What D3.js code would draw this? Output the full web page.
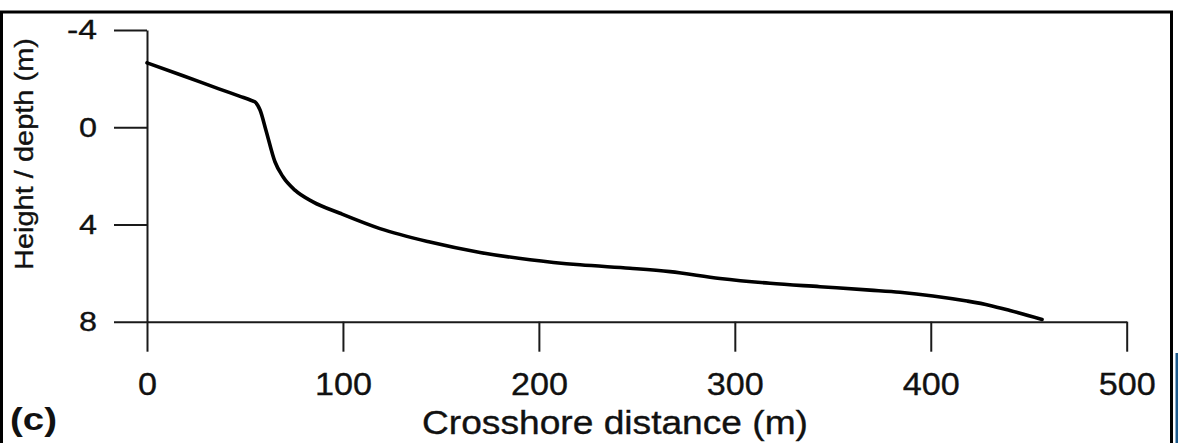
<!DOCTYPE html>
<html>
<head>
<meta charset="utf-8">
<script src="https://cdn.jsdelivr.net/npm/d3@7"></script>
<style>
  body { margin: 0; background: #fff; }
  svg { display: block; }
  text { font-family: "Liberation Sans", Arial, Helvetica, sans-serif; }
</style>
</head>
<body>
<svg id="chart" width="1178" height="443"></svg>
<script>
// Beach profile: crosshore distance (m) vs height / depth (m, positive downward)
const distance = [0, 18.4, 36.7, 47.5, 53, 55.1, 57.7, 60.7, 65.3, 69.4, 75.5, 84.7, 98.5, 118.9, 144.4, 170,
                  195.5, 221, 246.5, 266.9, 292.4, 318, 343.5, 369, 384.3, 401.1, 418.5, 430.2, 440.4, 456.8];
const depth    = [-2.65, -2.12, -1.58, -1.27, -1.11, -1.04, -0.71, 0.12, 1.42, 2.04, 2.59, 3.07, 3.54, 4.17, 4.72, 5.15,
                  5.45, 5.66, 5.80, 5.94, 6.22, 6.42, 6.56, 6.70, 6.79, 6.94, 7.15, 7.33, 7.54, 7.91];
const xTicks = [0, 100, 200, 300, 400, 500];
const yTicks = [-4, 0, 4, 8];
const xTitle = "Crosshore distance (m)";
const yTitle = "Height / depth (m)";
const panelLabel = "(c)";

const svg = d3.select("#chart");

// outer panel frame
svg.append("path")
  .attr("d", "M1.5,443 V12 H1171.5 V443")
  .attr("fill", "none")
  .attr("stroke", "#000")
  .attr("stroke-width", 3);

// strip of the neighbouring panel at the right edge
svg.append("rect")
  .attr("x", 1175.5).attr("y", 353)
  .attr("width", 2.5).attr("height", 90)
  .attr("fill", "#1d5a8c");

const x = d3.scaleLinear().domain([0, 500]).range([147, 1126.7]);
const y = d3.scaleLinear().domain([-4, 8]).range([30, 321.7]);

const xAxis = svg.append("g")
  .attr("transform", `translate(0,${y(8)})`)
  .call(d3.axisBottom(x).tickValues(xTicks).tickFormat(d => String(d))
    .tickSizeInner(30).tickSizeOuter(0).tickPadding(21));

const yAxis = svg.append("g")
  .attr("transform", `translate(${x(0)},0)`)
  .call(d3.axisLeft(y).tickValues(yTicks).tickFormat(d => String(d))
    .tickSizeInner(33).tickSizeOuter(0).tickPadding(17));

[xAxis, yAxis].forEach(g => {
  g.select(".domain").attr("stroke", "#1a1a1a").attr("stroke-width", 2);
  g.selectAll(".tick line").attr("stroke", "#1a1a1a").attr("stroke-width", 2);
  g.selectAll(".tick text")
    .attr("fill", "#111")
    .attr("stroke", "#111")
    .attr("stroke-width", 0.35)
    .attr("lengthAdjust", "spacingAndGlyphs")
    .style("font-family", '"Liberation Sans", Arial, sans-serif');
});
xAxis.selectAll(".tick text")
  .style("font-size", "32px")
  .attr("textLength", d => String(d).length * 19);
yAxis.selectAll(".tick text")
  .style("font-size", "28px")
  .attr("textLength", d => (d < 0 ? 12 : 0) + String(Math.abs(d)).length * 18);

// profile line
const line = d3.line()
  .x((d, i) => x(distance[i]))
  .y(d => y(d))
  .curve(d3.curveMonotoneX);

svg.append("path")
  .datum(depth)
  .attr("d", line)
  .attr("fill", "none")
  .attr("stroke", "#000")
  .attr("stroke-width", 3.6)
  .attr("stroke-linejoin", "round")
  .attr("stroke-linecap", "round");

// axis titles
svg.append("text")
  .attr("x", 615).attr("y", 434)
  .attr("text-anchor", "middle")
  .attr("textLength", 386)
  .attr("lengthAdjust", "spacingAndGlyphs")
  .style("font-size", "33px")
  .attr("fill", "#111")
  .attr("stroke", "#111")
  .attr("stroke-width", 0.35)
  .text(xTitle);

svg.append("text")
  .attr("transform", "translate(33,154) rotate(-90)")
  .attr("text-anchor", "middle")
  .attr("textLength", 232)
  .attr("lengthAdjust", "spacingAndGlyphs")
  .style("font-size", "26px")
  .attr("fill", "#111")
  .attr("stroke", "#111")
  .attr("stroke-width", 0.35)
  .text(yTitle);

svg.append("text")
  .attr("x", 10).attr("y", 430)
  .attr("textLength", 47)
  .attr("lengthAdjust", "spacingAndGlyphs")
  .style("font-size", "31px")
  .style("font-weight", "bold")
  .attr("fill", "#111")
  .text(panelLabel);
</script>
</body>
</html>
